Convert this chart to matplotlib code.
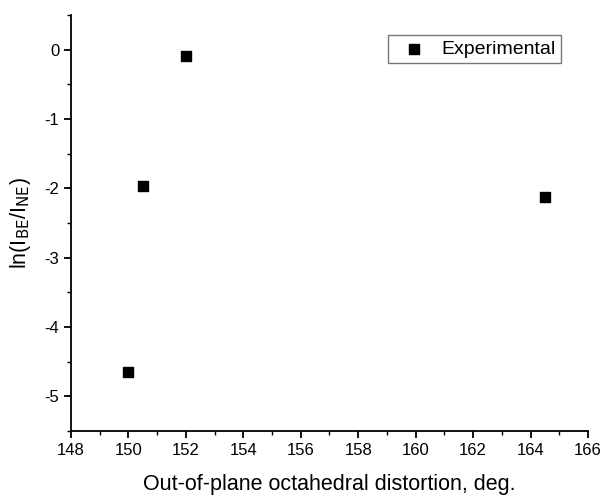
import matplotlib
matplotlib.use("Agg")
import matplotlib.pyplot as plt
import matplotlib.ticker as ticker

# data
distortion = [150.0, 150.5, 152.0, 164.5]
ln_ratio = [-4.65, -1.97, -0.10, -2.12]

plt.rcParams['font.family'] = ['Liberation Sans', 'DejaVu Sans']

fig = plt.figure(figsize=(6.04, 4.96), dpi=100)
ax = fig.add_axes([0.1175, 0.131, 0.856, 0.839])

ax.scatter(distortion, ln_ratio, marker="s", s=50, color="black", label="Experimental", zorder=3)

ax.set_xlim(148, 166)
ax.set_ylim(-5.5, 0.5)
ax.xaxis.set_major_locator(ticker.MultipleLocator(2))
ax.xaxis.set_minor_locator(ticker.MultipleLocator(1))
ax.yaxis.set_major_locator(ticker.MultipleLocator(1))
ax.yaxis.set_minor_locator(ticker.MultipleLocator(0.5))
ax.yaxis.set_major_formatter(ticker.FuncFormatter(lambda v, p: "%d" % round(v)))

for s in ["top", "right"]:
    ax.spines[s].set_visible(False)
for s in ["left", "bottom"]:
    ax.spines[s].set_linewidth(1.3)
ax.tick_params(axis='both', which='major', direction='out', length=5, width=1.3, labelsize=12)
ax.tick_params(axis='both', which='minor', direction='out', length=3, width=1.0)

ax.set_xlabel("Out-of-plane octahedral distortion, deg.", fontsize=15.5, labelpad=12)
ax.set_ylabel(r"ln(I$_{\mathrm{BE}}$/I$_{\mathrm{NE}}$)", fontsize=15.5, labelpad=8)

leg = ax.legend(loc='upper left', bbox_to_anchor=(0.613, 0.952), borderaxespad=0,
                frameon=True, fancybox=False, edgecolor="#555555", fontsize=14,
                handletextpad=0.4, borderpad=0.27, handlelength=2.1, markerscale=1.0)
leg.get_frame().set_linewidth(1.0)

fig.savefig("out.png", dpi=100)
